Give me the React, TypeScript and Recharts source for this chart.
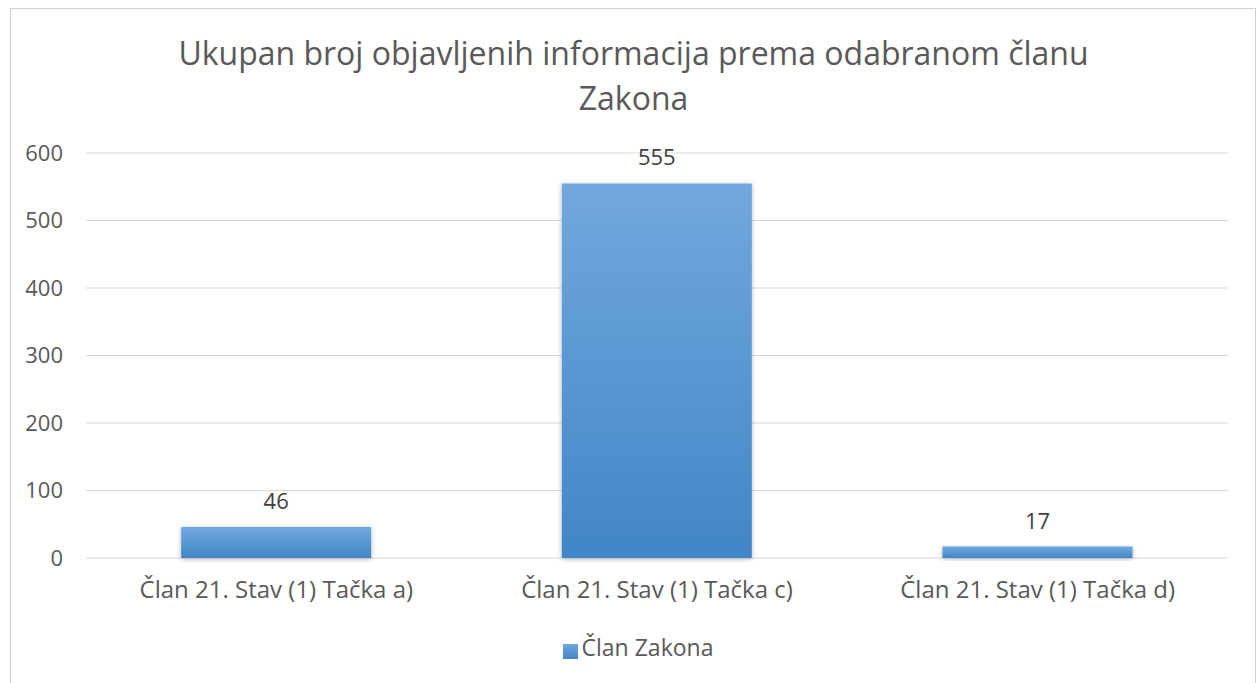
import React from 'react';
import { BarChart, Bar, XAxis, YAxis, CartesianGrid, LabelList, Legend } from 'recharts';

const categories = ['Član 21. Stav (1) Tačka a)', 'Član 21. Stav (1) Tačka c)', 'Član 21. Stav (1) Tačka d)'];
const values = [46, 555, 17];
const yTicks = [0, 100, 200, 300, 400, 500, 600];
const seriesName = 'Član Zakona';
const titleLines = ['Ukupan broj objavljenih informacija prema odabranom članu', 'Zakona'];

const data = categories.map((c, i) => ({ name: c, value: values[i] }));

const FONT = '"Open Sans", "Noto Sans", sans-serif';

export default function App() {
  return (
    <div style={{ position: 'absolute', left: 0, top: 0, width: 1260, height: 683, overflow: 'hidden', background: '#fff', fontFamily: FONT }}>
      <div style={{ position: 'absolute', left: 10, top: 8, width: 1246, height: 700, border: '1px solid #d0d0d0', boxSizing: 'border-box' }} />
      <div style={{ position: 'absolute', left: 10, top: 30, width: 1247, textAlign: 'center', fontSize: 32, lineHeight: '45px', color: '#595959' }}>
        {titleLines.map((t, i) => <div key={i}>{t}</div>)}
      </div>
      <div style={{ position: 'absolute', left: 0, top: 0 }}>
        <BarChart width={1260} height={683} data={data} margin={{ top: 153, right: 32, bottom: 95, left: 10 }} barCategoryGap="25%">
          <defs>
            <linearGradient id="barGrad" x1="0" y1="0" x2="0" y2="1">
              <stop offset="0%" stopColor="#72a8dd" />
              <stop offset="100%" stopColor="#4186c7" />
            </linearGradient>
            <filter id="barShadow" x="-10%" y="-10%" width="120%" height="130%">
              <feDropShadow dx="0" dy="1" stdDeviation="2.5" floodColor="#000" floodOpacity="0.3" />
            </filter>
          </defs>
          <CartesianGrid vertical={false} stroke="#d9d9d9" strokeWidth={1} />
          <XAxis dataKey="name" height={30} axisLine={false} tickLine={false} tickSize={0} tickMargin={23}
            tick={{ fill: '#595959', fontSize: 24, fontFamily: FONT }} interval={0} />
          <YAxis width={76} domain={[0, 600]} ticks={yTicks} axisLine={false} tickLine={false} tickSize={0} tickMargin={23}
            tick={{ fill: '#595959', fontSize: 22, fontFamily: FONT }} />
          <Legend layout="horizontal" verticalAlign="middle" align="center" iconType="square" iconSize={15}
            wrapperStyle={{ top: 631, left: 0, width: 1286, height: 32 }}
            formatter={(v) => <span style={{ color: '#595959', fontSize: 23, fontFamily: FONT }}>{v}</span>} />
          <Bar dataKey="value" name={seriesName} fill="url(#barGrad)" isAnimationActive={false} style={{ filter: 'url(#barShadow)' }}>
            <LabelList dataKey="value" position="top" offset={18} fill="#404040" fontSize={22} fontFamily={FONT} />
          </Bar>
        </BarChart>
      </div>
    </div>
  );
}
